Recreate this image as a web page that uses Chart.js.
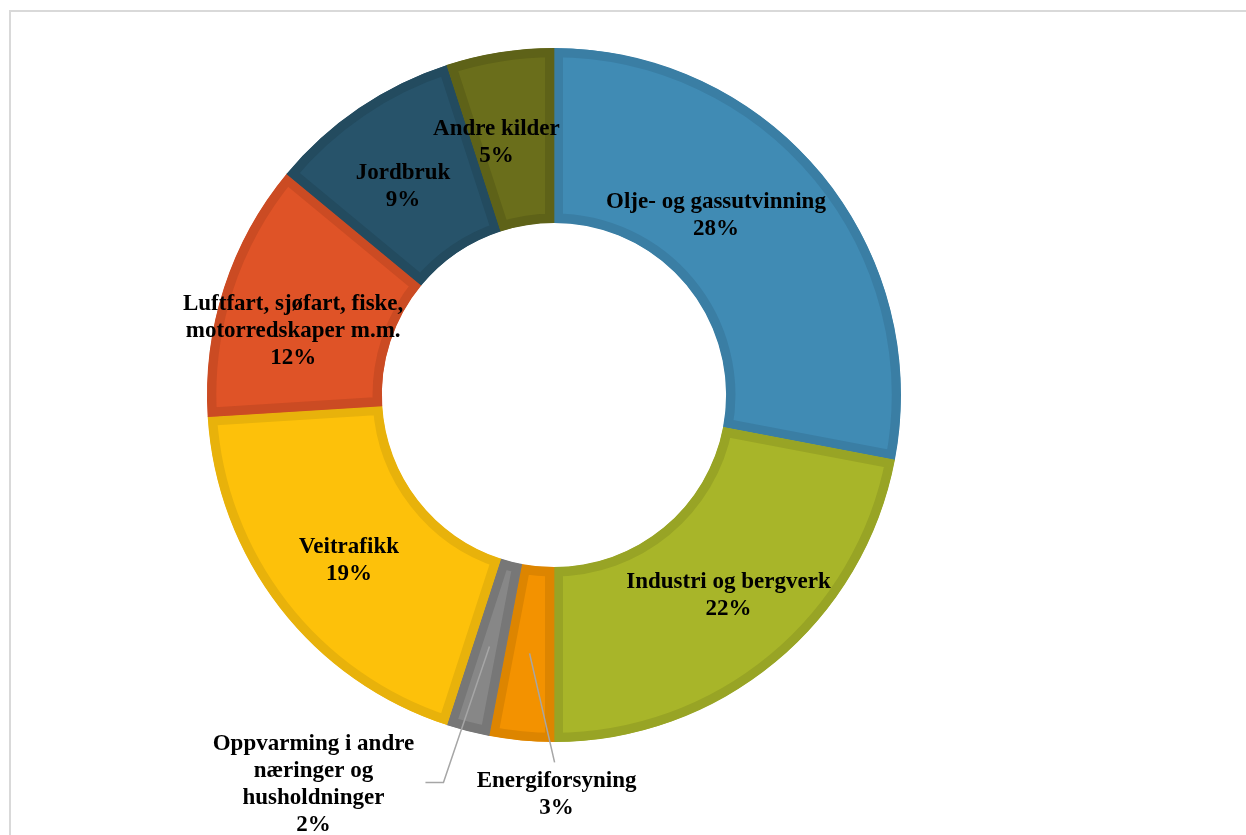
<!DOCTYPE html>
<html lang="no">
<head>
<meta charset="utf-8">
<title>Utslipp etter kilde</title>
<script src="https://cdn.jsdelivr.net/npm/chart.js@4.4.1/dist/chart.umd.min.js"></script>
<style>
  html, body { margin: 0; padding: 0; background: #fff; overflow: hidden; }
  #wrap { position: relative; width: 1246px; height: 835px; }
  #ramme { position: absolute; left: 9px; top: 10px; width: 1300px; height: 900px;
           border: 2px solid #d9d9d9; box-sizing: border-box; }
  #kake { position: absolute; left: 0; top: 0; }
</style>
</head>
<body>
<div id="wrap">
  <div id="ramme"></div>
  <canvas id="kake" width="1246" height="835"></canvas>
</div>
<script>
// kategorier (linjeskift som i etikettene)
const kategorier = [
  ['Olje- og gassutvinning'],
  ['Industri og bergverk'],
  ['Energiforsyning'],
  ['Oppvarming i andre', 'næringer og', 'husholdninger'],
  ['Veitrafikk'],
  ['Luftfart, sjøfart, fiske,', 'motorredskaper m.m.'],
  ['Jordbruk'],
  ['Andre kilder']
];
// andel i prosent
const andeler = [28, 22, 3, 2, 19, 12, 9, 5];

const fyllfarger = ['#408bb4', '#a8b529', '#f39200', '#878787', '#fdc10a', '#df5327', '#27536a', '#6a6e1b'];
const kantfarger = ['#3a7ea4', '#98a425', '#dd8500', '#777777', '#e8b20b', '#cb4b23', '#234b5f', '#5e6218'];

// etikettforskyvning fra midten av ringen (px)
const etikettDx = [-38, 9, 27, -176, 0, -14, -5, -17];
const etikettDy = [-14, 1, 141, 138, 6, 16, 6, 4];
// hjelpelinjer for etiketter utenfor ringen: [indeks, knekkpunkt dx, dy, slutt dx, dy]
const hjelpelinjer = [
  [2, 25, 109, 25, 109],
  [3, -46, 136, -64, 136]
];

const linjeHoyde = 27;

const etiketter = {
  id: 'etiketter',
  afterDatasetsDraw(chart) {
    const ctx = chart.ctx;
    const arcs = chart.getDatasetMeta(0).data;
    const midt = arcs.map(a => {
      const p = a.getProps(['x', 'y', 'startAngle', 'endAngle', 'innerRadius', 'outerRadius']);
      const v = (p.startAngle + p.endAngle) / 2;
      const r = (p.innerRadius + p.outerRadius) / 2;
      return { x: p.x + Math.cos(v) * r, y: p.y + Math.sin(v) * r };
    });

    ctx.save();
    // hjelpelinjer
    ctx.strokeStyle = '#a6a6a6';
    ctx.lineWidth = 1.5;
    hjelpelinjer.forEach(([i, kx, ky, sx, sy]) => {
      const m = midt[i];
      ctx.beginPath();
      ctx.moveTo(m.x, m.y);
      ctx.lineTo(m.x + kx, m.y + ky);
      ctx.lineTo(m.x + sx, m.y + sy);
      ctx.stroke();
    });

    // tekst
    ctx.fillStyle = '#000';
    ctx.font = 'bold 23px "Liberation Serif", "DejaVu Serif", serif';
    ctx.textAlign = 'center';
    ctx.textBaseline = 'middle';
    kategorier.forEach((linjer, i) => {
      const tekst = linjer.concat([andeler[i] + '%']);
      const cx = midt[i].x + etikettDx[i];
      const cy = midt[i].y + etikettDy[i];
      const topp = cy - (tekst.length - 1) * linjeHoyde / 2;
      tekst.forEach((t, j) => ctx.fillText(t, cx, topp + j * linjeHoyde));
    });
    ctx.restore();
  }
};

new Chart(document.getElementById('kake'), {
  type: 'doughnut',
  data: {
    labels: kategorier.map(l => l.join(' ')),
    datasets: [{
      data: andeler,
      backgroundColor: fyllfarger,
      borderColor: kantfarger,
      borderWidth: 9,
      borderAlign: 'inner',
      borderJoinStyle: 'miter',
      hoverOffset: 0
    }]
  },
  options: {
    responsive: false,
    animation: false,
    radius: 347,
    cutout: '49.6%',
    layout: { padding: { left: 0, right: 138, top: 0, bottom: 45 } },
    plugins: {
      legend: { display: false },
      tooltip: { enabled: false }
    }
  },
  plugins: [etiketter]
});
</script>
</body>
</html>
